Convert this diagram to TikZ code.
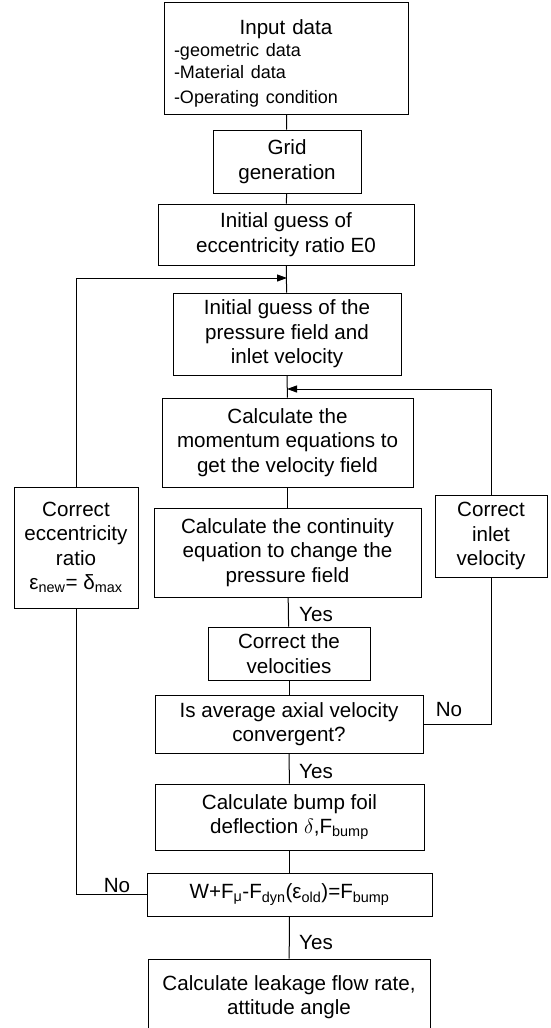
\documentclass[tikz,border=0pt]{standalone}
\usepackage{fontspec}
\setmainfont{Liberation Sans}
\usetikzlibrary{arrows.meta,positioning}
\newcommand{\mainsize}{\fontsize{20.6}{24.5}\selectfont}
\newcommand{\subsize}{\fontsize{18}{22}\selectfont}

\begin{document}
\begin{tikzpicture}[x=1pt,y=-1pt,
  stepbox/.style={draw,line width=1pt,inner sep=0pt,align=center,font=\mainsize},
  lbl/.style={font=\mainsize,inner sep=0pt},
  flow/.style={line width=1pt},
  >={Triangle[length=10pt,width=7pt]}]
\useasboundingbox (0,0) rectangle (551,1028);

% main column
\node[stepbox,minimum width=244pt,minimum height=112pt,text width=224pt,align=left] (input) at (286,58)
  {\rule{0pt}{26pt}\makebox[\linewidth]{Input data}\\ \subsize -geometric data\\ -Material data\\ -Operating condition};
\node[stepbox,minimum width=148pt,minimum height=63pt] (grid) at (287,161.5) {Grid\\generation};
\node[stepbox,minimum width=256pt,minimum height=61pt] (guessE) at (286,234.5) {Initial guess of\\eccentricity ratio E0};
\node[stepbox,minimum width=228pt,minimum height=82pt] (guessP) at (287,334) {Initial guess of the\\pressure field and\\inlet velocity};
\node[stepbox,minimum width=251pt,minimum height=89pt] (moment) at (287.5,442.5) {Calculate the\\momentum equations to\\get the velocity field};
\node[stepbox,minimum width=267pt,minimum height=89pt] (contin) at (287.5,552.5) {Calculate the continuity\\equation to change the\\pressure field};
\node[stepbox,minimum width=162pt,minimum height=53pt] (corrvel) at (289,653.5) {Correct the\\velocities};
\node[stepbox,minimum width=268pt,minimum height=58pt] (axial) at (289,724) {Is average axial velocity\\convergent?};
\node[stepbox,minimum width=269pt,minimum height=66pt] (bump) at (289.5,817) {Calculate bump foil\\deflection $\delta$,F\textsubscript{bump}};
\node[stepbox,minimum width=285pt,minimum height=43pt] (force) at (289.5,894.5)
  {W+F\textsubscript{μ}-F\textsubscript{dyn}(ε\textsubscript{old})=F\textsubscript{bump}};
\node[stepbox,minimum width=282pt,minimum height=76pt] (leak) at (289,997) {Calculate leakage flow rate,\\attitude angle};

% side boxes
\node[stepbox,minimum width=124pt,minimum height=121pt] (correcc) at (76,547.5) {Correct\\eccentricity\\ratio\\ε\textsubscript{new}= δ\textsubscript{max}};
\node[stepbox,minimum width=112pt,minimum height=82pt] (corrinl) at (491,536) {Correct\\inlet\\velocity};

\coordinate (jl) at (287,278);
\coordinate (jr) at (287,389);

\foreach \a/\b in {input/grid,grid/guessE,guessE/guessP,guessP/moment,moment/contin,
  contin/corrvel,corrvel/axial,axial/bump,bump/force,force/leak}
  \draw[flow] (\a) -- (\b);

% loops
\draw[flow,->] (correcc.north) |- (jl);
\draw[flow,->] (corrinl.north) |- (jr);
\draw[flow] (axial.east) -| (corrinl.south);
\draw[flow] (correcc.south) |- (force.west);

\node[lbl] (no1) at (449,710) {No};
\node[lbl] (no2) at (117,886) {No};
\node[lbl,anchor=west] (yes1) at (299,615) {Yes};
\node[lbl,anchor=west] (yes2) at (299,772) {Yes};
\node[lbl,anchor=west] (yes3) at (299,943) {Yes};
\end{tikzpicture}
\end{document}
